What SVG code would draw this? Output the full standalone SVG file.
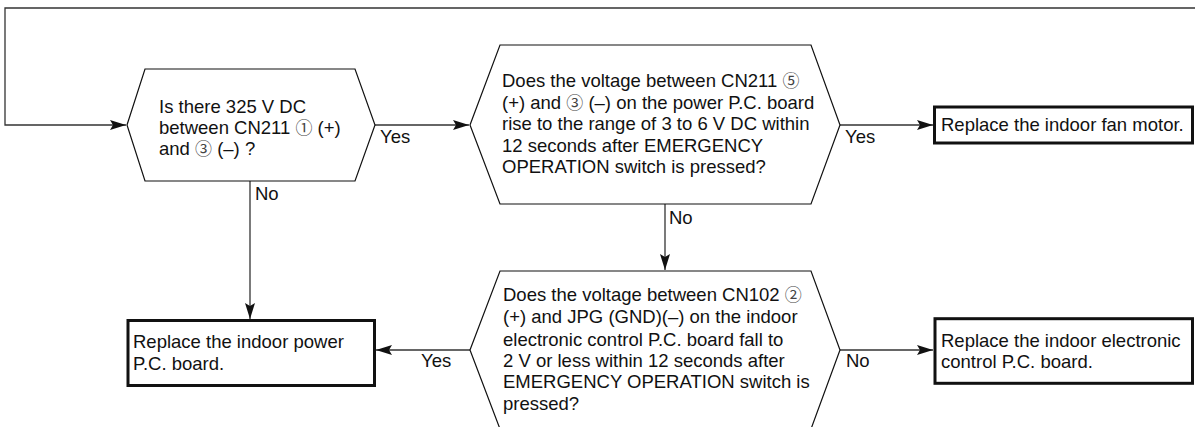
<svg xmlns="http://www.w3.org/2000/svg" width="1195" height="427" viewBox="0 0 1195 427">
<style>
.hex{fill:#fff;stroke:#111;stroke-width:1.2}
.box{fill:#fff;stroke:#111;stroke-width:3}
.t{font-family:"Liberation Sans","Noto Sans CJK JP",Arial,sans-serif;font-size:18.5px;fill:#111}
.lbl{font-family:"Liberation Sans",Arial,sans-serif;font-size:18.5px;fill:#111}
.d{font-family:"Noto Sans CJK JP","Noto Sans CJK SC","DejaVu Sans",sans-serif;font-size:17px;fill:#444}
.c{fill:none;stroke:#333;stroke-width:1.3}
</style>
<defs>
<marker id="arr" markerUnits="userSpaceOnUse" markerWidth="17" markerHeight="11" refX="16" refY="5" orient="auto">
<path d="M0,0 L16,5 L0,10 L3,5 z" fill="#111"/>
</marker>
</defs>
<rect width="1195" height="427" fill="#fff"/>
<g id="connectors">
<path class="c" d="M1195,8 H5 V125 H126" marker-end="url(#arr)"/>
<path class="c" d="M375,125 H469" marker-end="url(#arr)"/>
<path class="c" d="M840,125 H933" marker-end="url(#arr)"/>
<path class="c" d="M250,181 V319" marker-end="url(#arr)"/>
<path class="c" d="M665,204 V270" marker-end="url(#arr)"/>
<path class="c" d="M470,350 H376" marker-end="url(#arr)"/>
<path class="c" d="M840,350 H933" marker-end="url(#arr)"/>
<text class="lbl" x="380" y="143">Yes</text>
<text class="lbl" x="845" y="143">Yes</text>
<text class="lbl" x="255" y="200">No</text>
<text class="lbl" x="669" y="224">No</text>
<text class="lbl" x="421" y="367">Yes</text>
<text class="lbl" x="846" y="367">No</text>
</g>
<g id="q1">
<polygon class="hex" points="127,125 145,69 355,69 375,125 355,181 145,181"/>
<text class="t" x="159" y="113">Is there 325 V DC</text>
<text class="t" x="159" y="134">between CN211 <tspan class="d">①</tspan> (+)</text>
<text class="t" x="159" y="155">and <tspan class="d">③</tspan> (–) ?</text>
</g>
<g id="q2">
<polygon class="hex" points="470,125 500,45 811,45 840,125 811,204 500,204"/>
<text class="t" x="502" y="87">Does the voltage between CN211 <tspan class="d">⑤</tspan></text>
<text class="t" x="502" y="109">(+) and <tspan class="d">③</tspan> (–) on the power P.C. board</text>
<text class="t" x="502" y="130">rise to the range of 3 to 6 V DC within</text>
<text class="t" x="502" y="152">12 seconds after EMERGENCY</text>
<text class="t" x="502" y="173">OPERATION switch is pressed?</text>
</g>
<g id="fan">
<rect class="box" x="934.5" y="107" width="258" height="36"/>
<text class="t" x="941" y="131">Replace the indoor fan motor.</text>
</g>
<g id="q3">
<polygon class="hex" points="470,350 500,271 811,271 840,350 811,429 500,429"/>
<text class="t" x="503" y="301">Does the voltage between CN102 <tspan class="d">②</tspan></text>
<text class="t" x="503" y="323">(+) and JPG (GND)(–) on the indoor</text>
<text class="t" x="503" y="346">electronic control P.C. board fall to</text>
<text class="t" x="503" y="367">2 V or less within 12 seconds after</text>
<text class="t" x="503" y="388">EMERGENCY OPERATION switch is</text>
<text class="t" x="503" y="410">pressed?</text>
</g>
<g id="power">
<rect class="box" x="128" y="320.5" width="246.5" height="65"/>
<text class="t" x="133" y="348">Replace the indoor power</text>
<text class="t" x="133" y="370">P.C. board.</text>
</g>
<g id="elec">
<rect class="box" x="935" y="318.7" width="257.5" height="64.6"/>
<text class="t" x="941" y="347">Replace the indoor electronic</text>
<text class="t" x="941" y="368">control P.C. board.</text>
</g>
</svg>
